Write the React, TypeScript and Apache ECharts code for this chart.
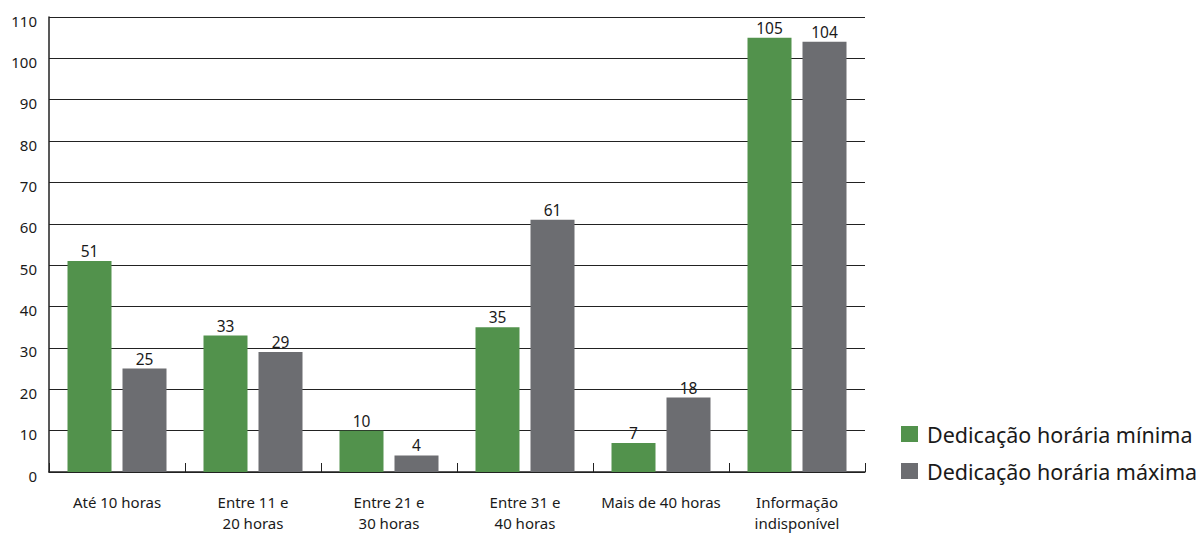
import React, { useEffect, useRef } from "react";
import * as echarts from "echarts";

const categories = [
  "Até 10 horas",
  "Entre 11 e\n20 horas",
  "Entre 21 e\n30 horas",
  "Entre 31 e\n40 horas",
  "Mais de 40 horas",
  "Informação\nindisponível",
];
const minima = [51, 33, 10, 35, 7, 105];
const maxima = [25, 29, 4, 61, 18, 104];
const seriesNames = ["Dedicação horária mínima", "Dedicação horária máxima"];

const FONT = "'Noto Sans', 'Open Sans', sans-serif";

export default function App() {
  const ref = useRef<HTMLDivElement>(null);
  useEffect(() => {
    const chart = echarts.init(ref.current!, null, { renderer: "svg" });
    const label = {
      show: true,
      position: "top" as const,
      distance: 2,
      color: "#1a1a1a",
      fontFamily: FONT,
      fontSize: 15.5,
    };
    chart.setOption({
      animation: false,
      textStyle: { fontFamily: FONT },
      grid: { left: 49, top: 17, right: 338, bottom: 58, containLabel: false },
      legend: {
        orient: "vertical",
        left: 896,
        top: 418,
        itemWidth: 17,
        itemHeight: 16,
        itemGap: 15,
        icon: "rect",
        textStyle: {
          fontFamily: FONT,
          fontSize: 21.5,
          lineHeight: 16,
          color: "#1a1a1a",
          padding: [0, 0, 0, 4],
        },
        data: seriesNames,
      },
      xAxis: {
        type: "category",
        data: categories,
        axisLine: { lineStyle: { color: "#222", width: 1.5 } },
        axisTick: { show: true, inside: true, length: 9, lineStyle: { color: "#222" } },
        axisLabel: {
          fontFamily: FONT,
          fontSize: 15,
          color: "#1a1a1a",
          margin: 20,
          lineHeight: 20.5,
          interval: 0,
        },
      },
      yAxis: {
        type: "value",
        min: 0,
        max: 110,
        interval: 10,
        axisLine: { show: true, lineStyle: { color: "#222", width: 1.5 } },
        axisTick: { show: false },
        splitLine: { lineStyle: { color: "#222", width: 1 } },
        axisLabel: {
          fontFamily: FONT,
          fontSize: 15,
          color: "#1a1a1a",
          margin: 12,
          verticalAlign: "top",
          padding: [-4, 0, 0, 0],
        },
      },
      series: [
        {
          name: seriesNames[0],
          type: "bar",
          data: minima,
          barWidth: 44,
          barGap: "25%",
          itemStyle: { color: "#52924c" },
          label,
        },
        {
          name: seriesNames[1],
          type: "bar",
          data: maxima,
          barWidth: 44,
          barGap: "25%",
          itemStyle: { color: "#6c6d71" },
          label,
        },
      ],
    });
    return () => chart.dispose();
  }, []);
  return <div ref={ref} style={{ width: 1203, height: 533, position: "absolute", left: 0, top: 0 }} />;
}
